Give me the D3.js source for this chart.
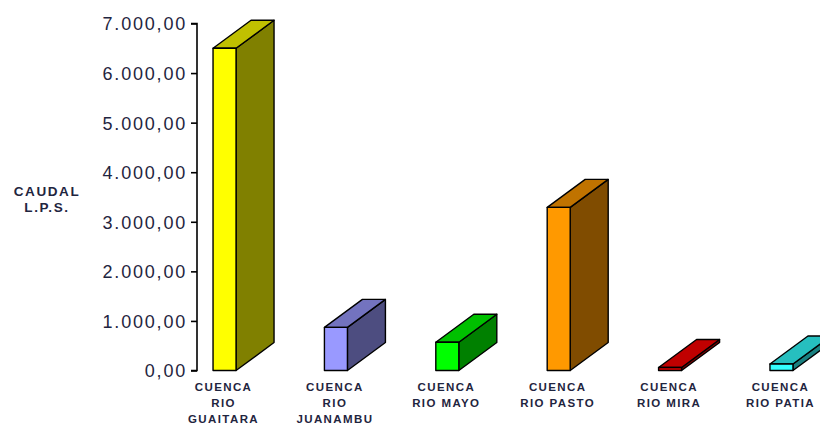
<!DOCTYPE html>
<html>
<head>
<meta charset="utf-8">
<script src="https://cdn.jsdelivr.net/npm/d3@7"></script>
<style>
  html, body { margin: 0; padding: 0; background: #ffffff; }
  svg { display: block; }
  text { font-family: "Liberation Sans", Arial, sans-serif; }
</style>
</head>
<body>
<svg id="chart" width="820" height="423"></svg>
<script>
// ---- data ----
const categories = [
  ["CUENCA", "RIO", "GUAITARA"],
  ["CUENCA", "RIO", "JUANAMBU"],
  ["CUENCA", "RIO MAYO"],
  ["CUENCA", "RIO PASTO"],
  ["CUENCA", "RIO MIRA"],
  ["CUENCA", "RIO PATIA"]
];
const values = [6500, 870, 570, 3290, 60, 130];
const yTicks = [0, 1000, 2000, 3000, 4000, 5000, 6000, 7000];
const yTitle = ["CAUDAL", "L.P.S."];
const frontColors = ["#ffff00", "#9999ff", "#00ff00", "#ff9900", "#e00000", "#33ffff"];
const topColors   = ["#c0c000", "#7373bf", "#00c000", "#c07300", "#c00000", "#26bfbf"];
const sideColors  = ["#808000", "#4d4d80", "#008000", "#804c00", "#800000", "#198080"];

// ---- layout ----
const svg = d3.select("#chart");
const axisX = 197;
const depthX = 38, depthY = -28;
const textColor = "#1f2540";

const keys = categories.map((c, i) => i);
const x = d3.scaleBand().domain(keys).range([axisX, 809]).paddingInner(0.7935).paddingOuter(0.144);
const y = d3.scaleLinear().domain([0, 7000]).range([370.5, 23.5]);

// ---- y axis ----
const fmt = v => d3.format(",.2f")(v).replace(/,/g, "#").replace(/\./g, ",").replace(/#/g, ".");
const yAxis = d3.axisLeft(y).tickValues(yTicks).tickSize(6).tickPadding(6).tickFormat(fmt);
const gy = svg.append("g").attr("transform", `translate(${axisX},0)`).call(yAxis);
gy.select(".domain").attr("stroke", "#000").attr("stroke-width", 1.6).attr("d", `M-6,${y(7000)}H0V${y(0)}H-6`);
gy.selectAll(".tick line").attr("stroke", "#000").attr("stroke-width", 1.6);
gy.selectAll(".tick text")
  .attr("fill", textColor)
  .style("font-size", "18px")
  .style("letter-spacing", "1.8px")
  .attr("dy", "0.36em")
  .attr("x", -10);

// ---- y title ----
svg.append("g").selectAll("text").data(yTitle).join("text")
  .attr("x", 47).attr("y", (d, i) => 196 + i * 16)
  .attr("text-anchor", "middle")
  .attr("fill", textColor)
  .style("font-size", "13.5px").style("font-weight", "bold").style("letter-spacing", "1.6px")
  .text(d => d);

// ---- bars ----
const bw = x.bandwidth();
const bars = svg.append("g").selectAll("g").data(values).join("g");
function poly(sel, pts, fill) {
  sel.append("path").attr("d", "M" + pts.map(p => p.join(",")).join("L") + "Z")
    .attr("fill", fill).attr("stroke", "#000").attr("stroke-width", 1.4)
    .attr("stroke-linejoin", "round");
}
bars.each(function(v, i) {
  const g = d3.select(this);
  const x0 = x(i), x1 = x(i) + bw, yb = y(0), yt = y(v);
  poly(g, [[x1, yb], [x1 + depthX, yb + depthY], [x1 + depthX, yt + depthY], [x1, yt]], sideColors[i]);
  poly(g, [[x0, yt], [x0 + depthX, yt + depthY], [x1 + depthX, yt + depthY], [x1, yt]], topColors[i]);
  poly(g, [[x0, yb], [x0, yt], [x1, yt], [x1, yb]], frontColors[i]);
});

// ---- category labels ----
const labels = svg.append("g").selectAll("text").data(categories).join("text")
  .attr("text-anchor", "middle")
  .attr("fill", textColor)
  .style("font-size", "11.5px").style("font-weight", "bold").style("letter-spacing", "1.4px");
labels.each(function(lines, i) {
  const t = d3.select(this);
  const cx = x(i) + bw / 2 - 1;
  lines.forEach((l, j) => {
    t.append("tspan").attr("x", cx).attr("y", 391 + j * 16).text(l);
  });
});
</script>
</body>
</html>
